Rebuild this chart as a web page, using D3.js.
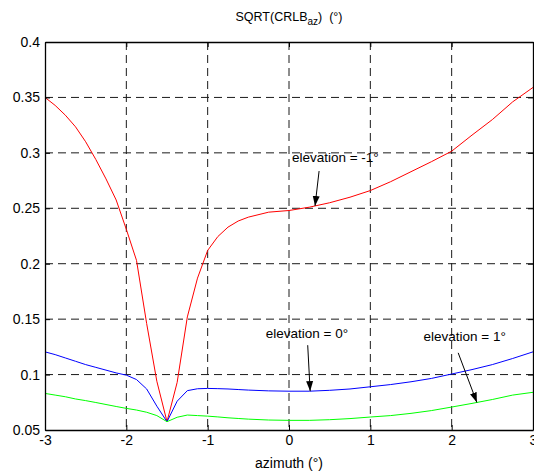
<!DOCTYPE html>
<html>
<head>
<meta charset="utf-8">
<script src="https://cdn.jsdelivr.net/npm/d3@7"></script>
<style>
  html, body { margin: 0; padding: 0; background: #fff; }
  svg { display: block; font-family: "Liberation Sans", Arial, Helvetica, sans-serif; }
</style>
</head>
<body>
<svg id="chart" width="534" height="473"></svg>
<script>
// Azimuth sample points (degrees)
const azimuth = [-3, -2.875, -2.75, -2.625, -2.5, -2.375, -2.25, -2.125, -2, -1.875, -1.75, -1.625,
  -1.5, -1.375, -1.25, -1.125, -1, -0.875, -0.75, -0.625, -0.5, -0.25, 0, 0.25, 0.5, 0.75,
  1, 1.25, 1.5, 1.75, 2, 2.25, 2.5, 2.75, 3];

// sqrt(CRLB) of the azimuth estimate for each elevation (degrees)
const elevMinus1 = [0.350, 0.3428, 0.334, 0.3235, 0.310, 0.294, 0.2765, 0.2575, 0.231, 0.203, 0.146, 0.094,
  0.0575, 0.093, 0.152, 0.187, 0.212, 0.2245, 0.233, 0.2385, 0.242, 0.2465, 0.248, 0.251, 0.255, 0.260,
  0.266, 0.274, 0.283, 0.292, 0.3015, 0.316, 0.330, 0.346, 0.359];
const elev0 = [0.1205, 0.118, 0.115, 0.112, 0.109, 0.1065, 0.104, 0.1015, 0.0995, 0.0955, 0.087, 0.0715,
  0.0575, 0.076, 0.0855, 0.0872, 0.0875, 0.0873, 0.087, 0.0865, 0.086, 0.0853, 0.085, 0.085, 0.0858, 0.087,
  0.089, 0.091, 0.0935, 0.0965, 0.1005, 0.1045, 0.109, 0.1145, 0.1205];
const elevPlus1 = [0.083, 0.0815, 0.080, 0.078, 0.0765, 0.0748, 0.073, 0.0712, 0.0695, 0.068, 0.066, 0.063,
  0.0575, 0.0615, 0.0635, 0.063, 0.0625, 0.0618, 0.061, 0.0604, 0.0598, 0.059, 0.0587, 0.0587, 0.0593, 0.0603,
  0.0617, 0.063, 0.065, 0.0675, 0.0707, 0.074, 0.0775, 0.0815, 0.084];

const seriesNames = ["elevation = -1°", "elevation = 0°", "elevation = 1°"];
const seriesColors = ["#ff0000", "#0000ff", "#00ff00"];

const xTicks = [-3, -2, -1, 0, 1, 2, 3];
const xTickLabels = ["-3", "-2", "-1", "0", "1", "2", "3"];
const yTicks = [0.05, 0.1, 0.15, 0.2, 0.25, 0.3, 0.35, 0.4];
const yTickLabels = ["0.05", "0.1", "0.15", "0.2", "0.25", "0.3", "0.35", "0.4"];

// Callouts: text anchor, arrow tail and the azimuth the arrow points at
const calloutTextAz = [0.57, 0.22, 2.16];
const calloutTextVal = [0.2921, 0.1333, 0.1300];
const calloutTailAz = [0.37, 0.23, 2.08];
const calloutTailVal = [0.2836, 0.1265, 0.1196];
const calloutTipAz = [0.32, 0.26, 2.31];

const svg = d3.select("#chart");
const plotLeft = 45, plotRight = 533, plotTop = 42, plotBottom = 430;

const x = d3.scaleLinear().domain([-3, 3]).range([plotLeft, plotRight]);
const y = d3.scaleLinear().domain([0.05, 0.4]).range([plotBottom, plotTop]);

// dashed grid
const grid = svg.append("g").attr("stroke", "#1a1a1a").attr("stroke-width", 1).attr("stroke-dasharray", "8,5");
xTicks.slice(1, -1).forEach(t => {
  grid.append("line").attr("x1", x(t)).attr("x2", x(t)).attr("y1", plotTop).attr("y2", plotBottom);
});
yTicks.slice(1, -1).forEach(t => {
  grid.append("line").attr("x1", plotLeft).attr("x2", plotRight).attr("y1", y(t)).attr("y2", y(t));
});

// curves
svg.append("clipPath").attr("id", "plotclip").append("rect")
  .attr("x", plotLeft).attr("y", plotTop).attr("width", plotRight - plotLeft).attr("height", plotBottom - plotTop);
const seriesData = [elevMinus1, elev0, elevPlus1];
const line = d3.line().x((d, i) => x(azimuth[i])).y(d => y(d));
const curves = svg.append("g").attr("clip-path", "url(#plotclip)");
seriesData.forEach((s, k) => {
  curves.append("path").datum(s).attr("d", line)
    .attr("fill", "none").attr("stroke", seriesColors[k]).attr("stroke-width", 1);
});

// axes with inward ticks
const fontSize = 14;
const axBottom = svg.append("g").attr("transform", `translate(0,${plotBottom})`)
  .call(d3.axisBottom(x).tickValues(xTicks).tickFormat((d, i) => xTickLabels[i]).tickSize(-5).tickSizeOuter(0).tickPadding(5));
const axLeft = svg.append("g").attr("transform", `translate(${plotLeft},0)`)
  .call(d3.axisLeft(y).tickValues(yTicks).tickFormat((d, i) => yTickLabels[i]).tickSize(-5).tickSizeOuter(0).tickPadding(5));
const axTop = svg.append("g").attr("transform", `translate(0,${plotTop})`)
  .call(d3.axisTop(x).tickValues(xTicks).tickFormat("").tickSize(-5).tickSizeOuter(0));
const axRight = svg.append("g").attr("transform", `translate(${plotRight},0)`)
  .call(d3.axisRight(y).tickValues(yTicks).tickFormat("").tickSize(-5).tickSizeOuter(0));
[axBottom, axLeft, axTop, axRight].forEach(g => {
  g.selectAll("path.domain").attr("stroke", "#000").attr("stroke-width", 1.3);
  g.selectAll(".tick line").attr("stroke", "#000").attr("stroke-width", 1);
  g.selectAll("text").attr("font-size", fontSize).attr("fill", "#000")
    .attr("font-family", "'Liberation Sans', Arial, sans-serif");
});

// title and axis label
const title = svg.append("text").attr("x", x(0)).attr("y", 21).attr("text-anchor", "middle")
  .attr("font-size", 12.5).attr("fill", "#000");
title.append("tspan").text("SQRT(CRLB");
title.append("tspan").attr("font-size", 10).attr("dy", 4).text("az");
title.append("tspan").attr("dy", -4).text(")\u00a0\u00a0(°)");

svg.append("text").attr("x", x(0)).attr("y", 468).attr("text-anchor", "middle")
  .attr("font-size", 14).attr("fill", "#000").text("azimuth (°)");

// callouts with arrows
const defs = svg.append("defs");
defs.append("marker").attr("id", "arrowhead").attr("viewBox", "0 0 10 10")
  .attr("refX", 10).attr("refY", 5).attr("markerWidth", 10).attr("markerHeight", 10)
  .attr("markerUnits", "userSpaceOnUse").attr("orient", "auto")
  .append("path").attr("d", "M0,1.5 L10,5 L0,8.5 Z").attr("fill", "#000");

function valueAt(series, az) {
  return d3.scaleLinear().domain(azimuth).range(series)(az);
}

seriesNames.forEach((name, k) => {
  const tipVal = valueAt(seriesData[k], calloutTipAz[k]);
  svg.append("line")
    .attr("x1", x(calloutTailAz[k])).attr("y1", y(calloutTailVal[k]))
    .attr("x2", x(calloutTipAz[k])).attr("y2", y(tipVal))
    .attr("stroke", "#000").attr("stroke-width", 1).attr("marker-end", "url(#arrowhead)");
  svg.append("text").attr("x", x(calloutTextAz[k])).attr("y", y(calloutTextVal[k]))
    .attr("text-anchor", "middle").attr("font-size", 13.5).attr("fill", "#000").text(name);
});
</script>
</body>
</html>
